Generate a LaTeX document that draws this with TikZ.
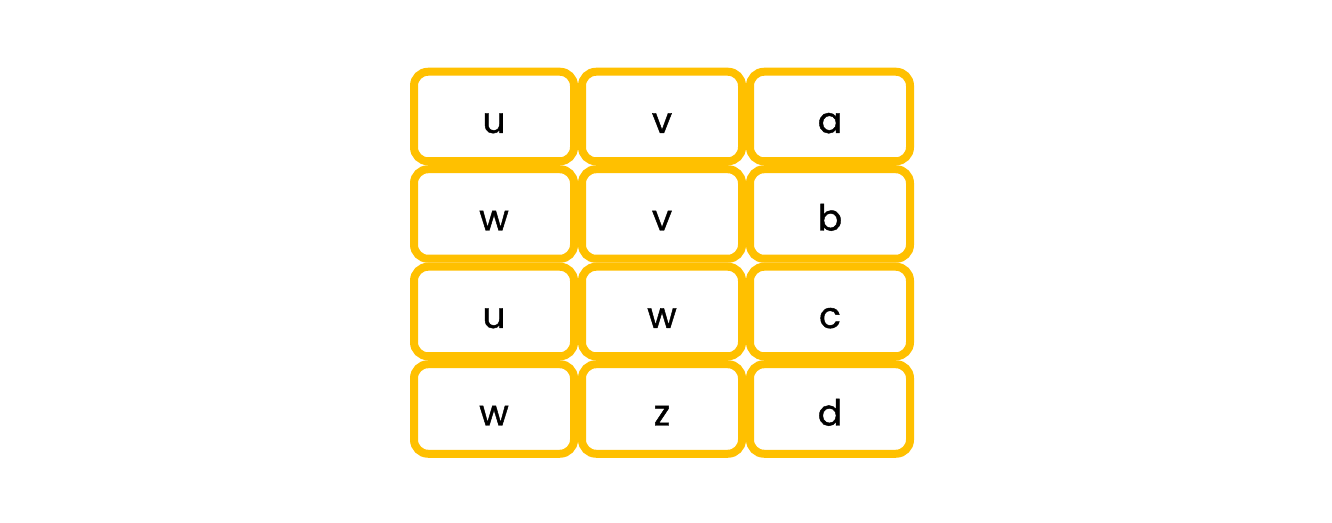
\documentclass[tikz,border=0pt]{standalone}
\usepackage{fontspec}
\setmainfont{Poppins}[FakeBold=1.2]
\usetikzlibrary{positioning}
\definecolor{boxyellow}{RGB}{255,192,0}

\begin{document}
\begin{tikzpicture}[x=1pt,y=1pt,
    cell/.style={rectangle,rounded corners=14pt,draw=boxyellow,line width=8pt,
		fill=white,minimum width=160pt,minimum height=89.5pt,inner sep=0pt,
		text height=33pt,text depth=0pt,font=\fontsize{36}{40}\selectfont}
    ]
   \useasboundingbox (0,0) rectangle (1332,522);
%%% Draw letter grid
   \begin{scope}[node distance=97.5pt and 168pt,on grid]
      \node [cell] at (494,405.5) (c11) {u};
      \node [cell] [right=of c11] (c12) {v};
      \node [cell] [right=of c12] (c13) {a};
      \node [cell] [below=of c11] (c21) {w};
      \node [cell] [right=of c21] (c22) {v};
      \node [cell] [right=of c22] (c23) {b};
      \node [cell] [below=of c21] (c31) {u};
      \node [cell] [right=of c31] (c32) {w};
      \node [cell] [right=of c32] (c33) {c};
      \node [cell] [below=of c31] (c41) {w};
      \node [cell] [right=of c41] (c42) {z};
      \node [cell] [right=of c42] (c43) {d};
   \end{scope}
\end{tikzpicture}
\end{document}
